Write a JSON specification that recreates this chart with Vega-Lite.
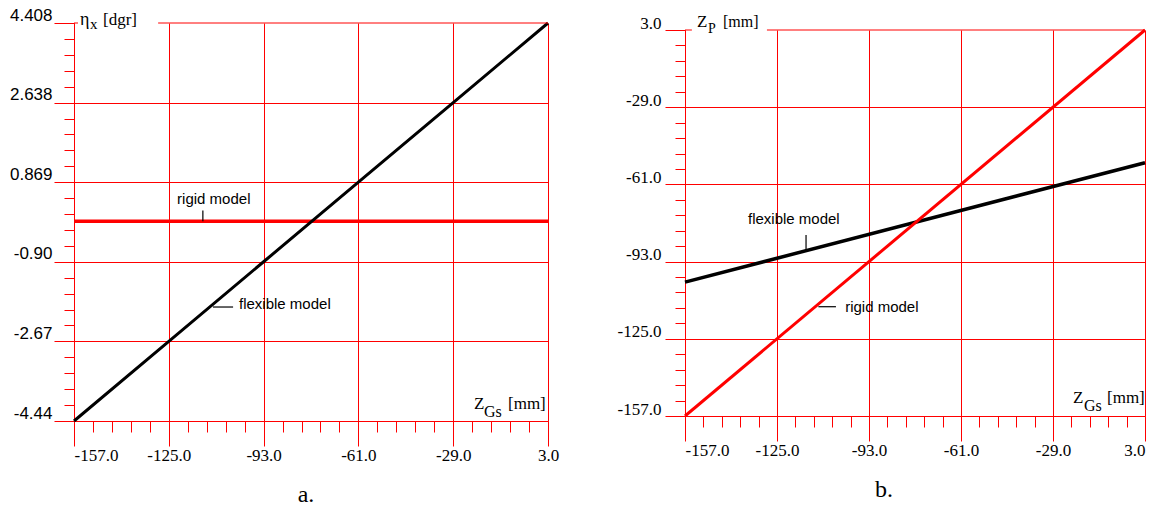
{
  "$schema": "https://vega.github.io/schema/vega-lite/v6.json",
  "background": "white",
  "padding": {"left": 9, "top": 6, "right": 5, "bottom": 5},
  "config": {
    "view": {"stroke": null},
    "axis": {"domainColor": "#ff0000", "tickColor": "#ff0000", "gridColor": "#ff0000", "gridWidth": 1, "domainWidth": 1, "tickWidth": 1, "labelColor": "#000000", "labelOverlap": false, "labelFlush": false, "title": null, "tickCount": 200}
  },
  "datasets": {
    "left": [
      {"series": "flexible model", "z": -157, "v": -4.44},
      {"series": "flexible model", "z": -125, "v": -2.67},
      {"series": "flexible model", "z": -93, "v": -0.9},
      {"series": "flexible model", "z": -61, "v": 0.869},
      {"series": "flexible model", "z": -29, "v": 2.638},
      {"series": "flexible model", "z": 3, "v": 4.408},
      {"series": "rigid model", "z": -157, "v": 0},
      {"series": "rigid model", "z": 3, "v": 0}
    ],
    "right": [
      {"series": "flexible model", "z": -157, "v": -101.5},
      {"series": "flexible model", "z": 3, "v": -52},
      {"series": "rigid model", "z": -157, "v": -157},
      {"series": "rigid model", "z": 3, "v": 3}
    ]
  },
  "spacing": 137,
  "bounds": "flush",
  "hconcat": [
    {
      "width": 474,
      "height": 398,
      "title": {"text": "a.", "orient": "bottom", "anchor": "middle", "font": "Liberation Serif", "fontSize": 24, "fontWeight": "normal", "color": "#000000", "offset": 20, "dx": -5},
      "layer": [
        {
          "data": {"name": "left"},
          "transform": [{"filter": "datum.series === 'rigid model'"}],
          "mark": {"type": "line", "color": "#ff0000", "strokeWidth": 3.5},
          "encoding": {
            "x": {"field": "z", "type": "quantitative",
              "scale": {"domain": [-157, 3], "nice": false, "zero": false},
              "axis": {
                "values": [-157, -150.6, -144.2, -137.8, -131.4, -125, -118.6, -112.2, -105.8, -99.4, -93, -86.6, -80.2, -73.8, -67.4, -61, -54.6, -48.2, -41.8, -35.4, -29, -22.6, -16.2, -9.8, -3.4, 3],
                "tickCount": 200,
                "grid": true,
                "gridOpacity": {"condition": {"test": "abs((datum.value+157)/32 - round((datum.value+157)/32)) < 0.01", "value": 1}, "value": 0},
                "tickSize": {"condition": {"test": "abs((datum.value+157)/32 - round((datum.value+157)/32)) < 0.01", "value": 25}, "value": 11},
                "labelExpr": "abs((datum.value+157)/32 - round((datum.value+157)/32)) < 0.01 ? ((datum.value < 0 ? '-' : '') + format(abs(datum.value), '.1f')) : ''",
                "labelAlign": {"condition": {"test": "datum.value < -156", "value": "left"}, "value": "center"},
                "labelFont": "Liberation Serif", "labelFontSize": 17, "labelPadding": 1, "labelBaseline": "top"
              }
            },
            "y": {"field": "v", "type": "quantitative",
              "scale": {"domain": [-4.44, 4.408], "nice": false, "zero": false},
              "axis": {
                "values": [-4.44, -4.08608, -3.73216, -3.37824, -3.02432, -2.6704, -2.31648, -1.96256, -1.60864, -1.25472, -0.9008, -0.54688, -0.19296, 0.16096, 0.51488, 0.8688, 1.22272, 1.57664, 1.93056, 2.28448, 2.6384, 2.99232, 3.34624, 3.70016, 4.05408, 4.408],
                "tickCount": 200,
                "grid": true,
                "gridOpacity": {"condition": {"test": "abs((datum.value+4.44)/1.7696 - round((datum.value+4.44)/1.7696)) < 0.01 && datum.value < 4.4", "value": 1}, "value": 0},
                "tickSize": {"condition": {"test": "abs((datum.value+4.44)/1.7696 - round((datum.value+4.44)/1.7696)) < 0.01", "value": 20}, "value": 10},
                "labelExpr": "abs((datum.value+4.44)/1.7696 - round((datum.value+4.44)/1.7696)) < 0.01 ? ['-4.44','-2.67','-0.90','0.869','2.638','4.408'][round((datum.value+4.44)/1.7696)] : ''",
                "labelFont": "Liberation Sans", "labelFontSize": 17, "labelPadding": 2, "labelBaseline": "alphabetic", "labelOffset": -3
              }
            }
          }
        },
        {
          "data": {"name": "left"},
          "transform": [{"filter": "datum.series === 'flexible model'"}],
          "mark": {"type": "line", "color": "#000000", "strokeWidth": 3},
          "encoding": {"x": {"field": "z", "type": "quantitative"}, "y": {"field": "v", "type": "quantitative"}}
        },
        {
          "data": {"values": [{}]},
          "mark": {"type": "rule", "color": "#ff0000", "strokeWidth": 1},
          "encoding": {"x": {"datum": -157}, "x2": {"datum": -155.65}, "y": {"datum": 4.408}}
        },
        {
          "data": {"values": [{}]},
          "mark": {"type": "rule", "color": "#ff0000", "strokeWidth": 1},
          "encoding": {"x": {"datum": -128.6}, "x2": {"datum": 3}, "y": {"datum": 4.408}}
        },
        {
          "data": {"values": [{}]},
          "mark": {"type": "rule", "color": "#000000", "strokeWidth": 1.2},
          "encoding": {"x": {"datum": -113.5}, "y": {"datum": 0}, "y2": {"datum": 0.24}}
        },
        {
          "data": {"values": [{}]},
          "mark": {"type": "rule", "color": "#000000", "strokeWidth": 1.2},
          "encoding": {"x": {"datum": -110.1}, "x2": {"datum": -103.3}, "y": {"datum": -1.906}}
        },
        {
          "data": {"values": [{}]},
          "mark": {"type": "text", "align": "left", "baseline": "alphabetic", "font": "Liberation Sans", "fontSize": 15, "color": "#000000"},
          "encoding": {"x": {"datum": -122.2}, "y": {"datum": 0.377}, "text": {"value": "rigid model"}}
        },
        {
          "data": {"values": [{}]},
          "mark": {"type": "text", "align": "left", "baseline": "alphabetic", "font": "Liberation Sans", "fontSize": 15, "color": "#000000"},
          "encoding": {"x": {"datum": -101.3}, "y": {"datum": -1.957}, "text": {"value": "flexible model"}}
        },
        {
          "data": {"values": [{}]},
          "mark": {"type": "text", "align": "left", "baseline": "alphabetic", "font": "Liberation Serif", "fontSize": 18, "color": "#000000", "dx": 6, "dy": 1.5},
          "encoding": {"x": {"datum": -157}, "y": {"datum": 4.408}, "text": {"value": "η"}}
        },
        {
          "data": {"values": [{}]},
          "mark": {"type": "text", "align": "left", "baseline": "alphabetic", "font": "Liberation Serif", "fontSize": 15, "color": "#000000", "dx": 16, "dy": 6},
          "encoding": {"x": {"datum": -157}, "y": {"datum": 4.408}, "text": {"value": "x"}}
        },
        {
          "data": {"values": [{}]},
          "mark": {"type": "text", "align": "left", "baseline": "alphabetic", "font": "Liberation Serif", "fontSize": 17, "color": "#000000", "dx": 29, "dy": 1.5},
          "encoding": {"x": {"datum": -157}, "y": {"datum": 4.408}, "text": {"value": "[dgr]"}}
        },
        {
          "data": {"values": [{}]},
          "mark": {"type": "text", "align": "left", "baseline": "alphabetic", "font": "Liberation Serif", "fontSize": 17, "color": "#000000", "dx": -74, "dy": -12},
          "encoding": {"x": {"datum": 3}, "y": {"datum": -4.44}, "text": {"value": "Z"}}
        },
        {
          "data": {"values": [{}]},
          "mark": {"type": "text", "align": "left", "baseline": "alphabetic", "font": "Liberation Serif", "fontSize": 16, "color": "#000000", "dx": -64, "dy": -4},
          "encoding": {"x": {"datum": 3}, "y": {"datum": -4.44}, "text": {"value": "Gs"}}
        },
        {
          "data": {"values": [{}]},
          "mark": {"type": "text", "align": "left", "baseline": "alphabetic", "font": "Liberation Serif", "fontSize": 17, "color": "#000000", "dx": -40, "dy": -12},
          "encoding": {"x": {"datum": 3}, "y": {"datum": -4.44}, "text": {"value": "[mm]"}}
        }
      ]
    },
    {
      "vconcat": [
        {
          "width": 460,
          "height": 7,
          "data": {"values": []},
          "mark": {"type": "point", "opacity": 0},
          "encoding": {}
        },
        {
          "width": 460,
          "height": 386,
          "title": {"text": "b.", "orient": "bottom", "anchor": "middle", "font": "Liberation Serif", "fontSize": 24, "fontWeight": "normal", "color": "#000000", "offset": 20, "dx": -31},
          "layer": [
            {
              "data": {"name": "right"},
              "transform": [{"filter": "datum.series === 'flexible model'"}],
              "mark": {"type": "line", "color": "#000000", "strokeWidth": 3.5},
              "encoding": {
                "x": {"field": "z", "type": "quantitative",
                  "scale": {"domain": [-157, 3], "nice": false, "zero": false},
                  "axis": {
                    "values": [-157, -150.6, -144.2, -137.8, -131.4, -125, -118.6, -112.2, -105.8, -99.4, -93, -86.6, -80.2, -73.8, -67.4, -61, -54.6, -48.2, -41.8, -35.4, -29, -22.6, -16.2, -9.8, -3.4, 3],
                    "tickCount": 200,
                    "grid": true,
                    "gridOpacity": {"condition": {"test": "abs((datum.value+157)/32 - round((datum.value+157)/32)) < 0.01", "value": 1}, "value": 0},
                    "tickSize": {"condition": {"test": "abs((datum.value+157)/32 - round((datum.value+157)/32)) < 0.01", "value": 25}, "value": 11},
                    "labelExpr": "abs((datum.value+157)/32 - round((datum.value+157)/32)) < 0.01 ? ((datum.value < 0 ? '-' : '') + format(abs(datum.value), '.1f')) : ''",
                    "labelAlign": {"condition": [{"test": "datum.value < -156", "value": "left"}, {"test": "datum.value > 2", "value": "right"}], "value": "center"},
                    "labelFont": "Liberation Serif", "labelFontSize": 17, "labelPadding": 1, "labelBaseline": "top"
                  }
                },
                "y": {"field": "v", "type": "quantitative",
                  "scale": {"domain": [-157, 3], "nice": false, "zero": false},
                  "axis": {
                    "values": [-157, -150.6, -144.2, -137.8, -131.4, -125, -118.6, -112.2, -105.8, -99.4, -93, -86.6, -80.2, -73.8, -67.4, -61, -54.6, -48.2, -41.8, -35.4, -29, -22.6, -16.2, -9.8, -3.4, 3],
                    "tickCount": 200,
                    "grid": true,
                    "gridOpacity": {"condition": {"test": "abs((datum.value+157)/32 - round((datum.value+157)/32)) < 0.01 && datum.value < 2", "value": 1}, "value": 0},
                    "tickSize": {"condition": {"test": "abs((datum.value+157)/32 - round((datum.value+157)/32)) < 0.01", "value": 20}, "value": 10},
                    "labelExpr": "abs((datum.value+157)/32 - round((datum.value+157)/32)) < 0.01 ? ((datum.value < 0 ? '-' : '') + format(abs(datum.value), '.1f')) : ''",
                    "labelFont": "Liberation Serif", "labelFontSize": 17, "labelPadding": 4, "labelBaseline": "alphabetic", "labelOffset": -2
                  }
                }
              }
            },
            {
              "data": {"name": "right"},
              "transform": [{"filter": "datum.series === 'rigid model'"}],
              "mark": {"type": "line", "color": "#ff0000", "strokeWidth": 3},
              "encoding": {"x": {"field": "z", "type": "quantitative"}, "y": {"field": "v", "type": "quantitative"}}
            },
            {
              "data": {"values": [{}]},
              "mark": {"type": "rule", "color": "#ff0000", "strokeWidth": 1},
              "encoding": {"x": {"datum": -157}, "x2": {"datum": -154.6}, "y": {"datum": 3}}
            },
            {
              "data": {"values": [{}]},
              "mark": {"type": "rule", "color": "#ff0000", "strokeWidth": 1},
              "encoding": {"x": {"datum": -128.5}, "x2": {"datum": 3}, "y": {"datum": 3}}
            },
            {
              "data": {"values": [{}]},
              "mark": {"type": "rule", "color": "#000000", "strokeWidth": 1.2},
              "encoding": {"x": {"datum": -114.9}, "y": {"datum": -82.0}, "y2": {"datum": -89.0}}
            },
            {
              "data": {"values": [{}]},
              "mark": {"type": "rule", "color": "#000000", "strokeWidth": 1.2},
              "encoding": {"x": {"datum": -110.6}, "x2": {"datum": -104.5}, "y": {"datum": -111.7}}
            },
            {
              "data": {"values": [{}]},
              "mark": {"type": "text", "align": "left", "baseline": "alphabetic", "font": "Liberation Sans", "fontSize": 15, "color": "#000000"},
              "encoding": {"x": {"datum": -135.1}, "y": {"datum": -77.4}, "text": {"value": "flexible model"}}
            },
            {
              "data": {"values": [{}]},
              "mark": {"type": "text", "align": "left", "baseline": "alphabetic", "font": "Liberation Sans", "fontSize": 15, "color": "#000000"},
              "encoding": {"x": {"datum": -101.3}, "y": {"datum": -113.8}, "text": {"value": "rigid model"}}
            },
            {
              "data": {"values": [{}]},
              "mark": {"type": "text", "align": "left", "baseline": "alphabetic", "font": "Liberation Serif", "fontSize": 17, "color": "#000000", "dx": 12, "dy": -3},
              "encoding": {"x": {"datum": -157}, "y": {"datum": 3}, "text": {"value": "Z"}}
            },
            {
              "data": {"values": [{}]},
              "mark": {"type": "text", "align": "left", "baseline": "alphabetic", "font": "Liberation Serif", "fontSize": 14, "color": "#000000", "dx": 23, "dy": 3},
              "encoding": {"x": {"datum": -157}, "y": {"datum": 3}, "text": {"value": "P"}}
            },
            {
              "data": {"values": [{}]},
              "mark": {"type": "text", "align": "left", "baseline": "alphabetic", "font": "Liberation Serif", "fontSize": 16, "color": "#000000", "dx": 38, "dy": -3},
              "encoding": {"x": {"datum": -157}, "y": {"datum": 3}, "text": {"value": "[mm]"}}
            },
            {
              "data": {"values": [{}]},
              "mark": {"type": "text", "align": "left", "baseline": "alphabetic", "font": "Liberation Serif", "fontSize": 17, "color": "#000000", "dx": -72, "dy": -13},
              "encoding": {"x": {"datum": 3}, "y": {"datum": -157}, "text": {"value": "Z"}}
            },
            {
              "data": {"values": [{}]},
              "mark": {"type": "text", "align": "left", "baseline": "alphabetic", "font": "Liberation Serif", "fontSize": 16, "color": "#000000", "dx": -61, "dy": -5},
              "encoding": {"x": {"datum": 3}, "y": {"datum": -157}, "text": {"value": "Gs"}}
            },
            {
              "data": {"values": [{}]},
              "mark": {"type": "text", "align": "left", "baseline": "alphabetic", "font": "Liberation Serif", "fontSize": 17, "color": "#000000", "dx": -38, "dy": -13},
              "encoding": {"x": {"datum": 3}, "y": {"datum": -157}, "text": {"value": "[mm]"}}
            }
          ]
        }
      ],
      "spacing": 0,
      "bounds": "flush"
    }
  ]
}
